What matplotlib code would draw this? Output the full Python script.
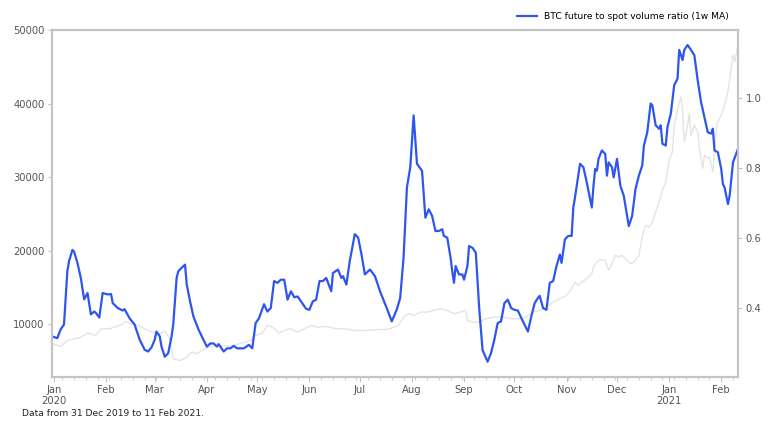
import pandas as pd
import matplotlib
matplotlib.use('Agg')
import matplotlib.pyplot as plt
import matplotlib.dates as mdates

# ratio futures / spot (moyenne mobile 1 semaine), axe de droite
ratio_dates = [
    '2019-12-31', '2020-01-03', '2020-01-05', '2020-01-07', '2020-01-09', '2020-01-10', '2020-01-12',
    '2020-01-13', '2020-01-15', '2020-01-17', '2020-01-19', '2020-01-21', '2020-01-23', '2020-01-25',
    '2020-01-26', '2020-01-28', '2020-01-30', '2020-02-02', '2020-02-04', '2020-02-05', '2020-02-08',
    '2020-02-11', '2020-02-12', '2020-02-15', '2020-02-18', '2020-02-21', '2020-02-24', '2020-02-26',
    '2020-02-28', '2020-03-01', '2020-03-02', '2020-03-04', '2020-03-05', '2020-03-07', '2020-03-09',
    '2020-03-11', '2020-03-12', '2020-03-14', '2020-03-15', '2020-03-17', '2020-03-19', '2020-03-20',
    '2020-03-22', '2020-03-24', '2020-03-27', '2020-03-30', '2020-04-01', '2020-04-03', '2020-04-05',
    '2020-04-07', '2020-04-08', '2020-04-11', '2020-04-13', '2020-04-15', '2020-04-17', '2020-04-19',
    '2020-04-23', '2020-04-26', '2020-04-28', '2020-04-30', '2020-05-02', '2020-05-05', '2020-05-07',
    '2020-05-09', '2020-05-11', '2020-05-13', '2020-05-15', '2020-05-17', '2020-05-19', '2020-05-21',
    '2020-05-23', '2020-05-25', '2020-05-27', '2020-05-30', '2020-06-01', '2020-06-03', '2020-06-05',
    '2020-06-07', '2020-06-09', '2020-06-11', '2020-06-14', '2020-06-15', '2020-06-18', '2020-06-20',
    '2020-06-21', '2020-06-23', '2020-06-25', '2020-06-28', '2020-06-30', '2020-07-02', '2020-07-04',
    '2020-07-07', '2020-07-10', '2020-07-13', '2020-07-17', '2020-07-20', '2020-07-23', '2020-07-25',
    '2020-07-27', '2020-07-29', '2020-07-31', '2020-08-02', '2020-08-04', '2020-08-07', '2020-08-09',
    '2020-08-11', '2020-08-13', '2020-08-15', '2020-08-17', '2020-08-19', '2020-08-20', '2020-08-22',
    '2020-08-24', '2020-08-25', '2020-08-26', '2020-08-27', '2020-08-29', '2020-08-31', '2020-09-01',
    '2020-09-03', '2020-09-04', '2020-09-06', '2020-09-08', '2020-09-10', '2020-09-12', '2020-09-15',
    '2020-09-17', '2020-09-19', '2020-09-21', '2020-09-23', '2020-09-25', '2020-09-27', '2020-09-29',
    '2020-10-01', '2020-10-03', '2020-10-06', '2020-10-09', '2020-10-11', '2020-10-13', '2020-10-15',
    '2020-10-16', '2020-10-18', '2020-10-20', '2020-10-22', '2020-10-24', '2020-10-26', '2020-10-28',
    '2020-10-29', '2020-10-31', '2020-11-02', '2020-11-04', '2020-11-05', '2020-11-06', '2020-11-09',
    '2020-11-11', '2020-11-13', '2020-11-15', '2020-11-16', '2020-11-17', '2020-11-18', '2020-11-19',
    '2020-11-20', '2020-11-22', '2020-11-24', '2020-11-25', '2020-11-26', '2020-11-28', '2020-11-29',
    '2020-12-01', '2020-12-03', '2020-12-05', '2020-12-07', '2020-12-08', '2020-12-10', '2020-12-12',
    '2020-12-14', '2020-12-16', '2020-12-17', '2020-12-19', '2020-12-21', '2020-12-22', '2020-12-24',
    '2020-12-26', '2020-12-27', '2020-12-28', '2020-12-30', '2020-12-31', '2021-01-02', '2021-01-04',
    '2021-01-06', '2021-01-07', '2021-01-09', '2021-01-10', '2021-01-12', '2021-01-14', '2021-01-16',
    '2021-01-18', '2021-01-20', '2021-01-22', '2021-01-24', '2021-01-26', '2021-01-27', '2021-01-28',
    '2021-01-30', '2021-02-01', '2021-02-02', '2021-02-03', '2021-02-05', '2021-02-06', '2021-02-08',
    '2021-02-11']
ratio = [
    0.320, 0.315, 0.340, 0.354, 0.506, 0.535, 0.567,
    0.562, 0.530, 0.487, 0.426, 0.444, 0.383, 0.391,
    0.387, 0.374, 0.444, 0.440, 0.441, 0.415, 0.401,
    0.394, 0.398, 0.372, 0.354, 0.311, 0.282, 0.277,
    0.288, 0.311, 0.334, 0.320, 0.291, 0.262, 0.272,
    0.320, 0.354, 0.487, 0.506, 0.516, 0.525, 0.469,
    0.420, 0.377, 0.340, 0.310, 0.291, 0.300, 0.300,
    0.291, 0.298, 0.277, 0.286, 0.286, 0.293, 0.286,
    0.286, 0.296, 0.286, 0.358, 0.372, 0.412, 0.391,
    0.401, 0.478, 0.473, 0.482, 0.482, 0.425, 0.449,
    0.432, 0.434, 0.420, 0.399, 0.396, 0.420, 0.425,
    0.478, 0.478, 0.487, 0.449, 0.501, 0.511, 0.487,
    0.492, 0.468, 0.535, 0.612, 0.602, 0.554, 0.497,
    0.511, 0.492, 0.449, 0.401, 0.363, 0.397, 0.430,
    0.544, 0.745, 0.803, 0.951, 0.813, 0.793, 0.659,
    0.683, 0.664, 0.621, 0.621, 0.626, 0.607, 0.602,
    0.544, 0.506, 0.473, 0.521, 0.497, 0.497, 0.482,
    0.521, 0.578, 0.573, 0.559, 0.401, 0.281, 0.248,
    0.272, 0.310, 0.358, 0.363, 0.415, 0.425, 0.401,
    0.396, 0.394, 0.363, 0.334, 0.377, 0.415, 0.430,
    0.436, 0.401, 0.396, 0.473, 0.478, 0.521, 0.554,
    0.530, 0.597, 0.607, 0.607, 0.688, 0.717, 0.813,
    0.803, 0.760, 0.712, 0.688, 0.750, 0.798, 0.793,
    0.827, 0.851, 0.841, 0.779, 0.817, 0.803, 0.774,
    0.827, 0.750, 0.722, 0.664, 0.635, 0.664, 0.741,
    0.779, 0.808, 0.865, 0.903, 0.985, 0.980, 0.923,
    0.913, 0.923, 0.870, 0.865, 0.918, 0.956, 1.037,
    1.056, 1.138, 1.109, 1.138, 1.152, 1.138, 1.123,
    1.051, 0.989, 0.946, 0.903, 0.899, 0.913, 0.851,
    0.846, 0.798, 0.755, 0.745, 0.698, 0.722, 0.817,
    0.856]

# prix BTC (USD), axe de gauche, en gris clair
price_dates = [
    '2019-12-31', '2020-01-05', '2020-01-09', '2020-01-13', '2020-01-16', '2020-01-21', '2020-01-23',
    '2020-01-26', '2020-01-29', '2020-02-03', '2020-02-06', '2020-02-10', '2020-02-13', '2020-02-16',
    '2020-02-20', '2020-02-22', '2020-02-26', '2020-02-29', '2020-03-04', '2020-03-07', '2020-03-10',
    '2020-03-12', '2020-03-16', '2020-03-20', '2020-03-23', '2020-03-26', '2020-03-29', '2020-04-02',
    '2020-04-06', '2020-04-09', '2020-04-15', '2020-04-20', '2020-04-24', '2020-04-27', '2020-04-30',
    '2020-05-04', '2020-05-07', '2020-05-10', '2020-05-14', '2020-05-18', '2020-05-21', '2020-05-25',
    '2020-05-29', '2020-06-02', '2020-06-06', '2020-06-11', '2020-06-17', '2020-06-22', '2020-06-28',
    '2020-07-04', '2020-07-10', '2020-07-16', '2020-07-19', '2020-07-24', '2020-07-27', '2020-07-30',
    '2020-08-02', '2020-08-06', '2020-08-10', '2020-08-14', '2020-08-18', '2020-08-22', '2020-08-26',
    '2020-08-30', '2020-09-02', '2020-09-03', '2020-09-06', '2020-09-10', '2020-09-14', '2020-09-19',
    '2020-09-24', '2020-09-29', '2020-10-04', '2020-10-08', '2020-10-12', '2020-10-16', '2020-10-20',
    '2020-10-24', '2020-10-28', '2020-11-01', '2020-11-04', '2020-11-06', '2020-11-08', '2020-11-10',
    '2020-11-13', '2020-11-16', '2020-11-17', '2020-11-19', '2020-11-21', '2020-11-24', '2020-11-26',
    '2020-11-28', '2020-11-30', '2020-12-02', '2020-12-04', '2020-12-06', '2020-12-09', '2020-12-11',
    '2020-12-14', '2020-12-16', '2020-12-18', '2020-12-20', '2020-12-22', '2020-12-24', '2020-12-26',
    '2020-12-28', '2020-12-30', '2021-01-01', '2021-01-03', '2021-01-04', '2021-01-05', '2021-01-07',
    '2021-01-08', '2021-01-09', '2021-01-10', '2021-01-12', '2021-01-13', '2021-01-14', '2021-01-16',
    '2021-01-18', '2021-01-19', '2021-01-21', '2021-01-22', '2021-01-24', '2021-01-25', '2021-01-27',
    '2021-01-29', '2021-01-30', '2021-02-01', '2021-02-03', '2021-02-05', '2021-02-08', '2021-02-09',
    '2021-02-11']
price = [
    7375, 7010, 7825, 8055, 8140, 8820, 8735,
    8505, 9415, 9415, 9635, 9960, 10410, 10095,
    9865, 9635, 9185, 8955, 8735, 9090, 8055,
    5335, 5100, 5555, 6230, 6015, 6465, 6910,
    7145, 7145, 7010, 7375, 7595, 7825, 8505,
    8820, 9865, 9635, 8820, 9280, 9415, 8955,
    9415, 9865, 9635, 9730, 9415, 9415, 9185,
    9185, 9280, 9320, 9415, 9865, 11000, 11455,
    11225, 11675, 11675, 11905, 12135, 11905, 11455,
    11675, 11905, 10545, 10315, 10315, 10775, 11000,
    11000, 10775, 10775, 11000, 11675, 11905, 12355,
    13035, 13500, 13950, 14860, 15755, 15305, 15755,
    16220, 16900, 17800, 18480, 18805, 18710, 17350,
    18260, 19390, 19155, 19390, 18940, 18260, 18480,
    19390, 21880, 23470, 23240, 23920, 25280, 26640,
    28230, 29360, 32310, 33440, 37075, 37990, 40245,
    40925, 38885, 34800, 37075, 38665, 35715, 37075,
    36165, 33905, 31185, 32995, 32545, 32760, 30720,
    36625, 37525, 38435, 39795, 41605, 46600, 45690,
    47960]

ratio_s = pd.Series(ratio, index=pd.to_datetime(ratio_dates))
price_s = pd.Series(price, index=pd.to_datetime(price_dates))

spine_col = '#c4c4c4'
text_col = '#555555'

fig, ax = plt.subplots(figsize=(7.68, 4.28), dpi=100)
fig.subplots_adjust(left=0.068, right=0.961, bottom=0.119, top=0.930)

ax.plot(price_s.index, price_s.values, color='#e4e4e4', lw=1.0)
ax.set_ylim(2850, 50000)
ax.set_yticks([10000, 20000, 30000, 40000, 50000])

ax2 = ax.twinx()
ax2.plot(ratio_s.index, ratio_s.values, color='#2f55ee', lw=1.6,
         label='BTC future to spot volume ratio (1w MA)')
ax2.set_ylim(0.204, 1.195)
ax2.set_yticks([0.4, 0.6, 0.8, 1.0])
ax2.set_yticklabels(['0.4', '0.6', '0.8', '1.0'])

ax.set_xlim(pd.Timestamp('2019-12-31'), pd.Timestamp('2021-02-11'))
ax.xaxis.set_major_locator(mdates.MonthLocator())
ax.xaxis.set_minor_locator(mdates.WeekdayLocator(byweekday=mdates.MO))


def fmt_month(x, pos=None):
    d = mdates.num2date(x)
    if d.month == 1:
        return d.strftime('%b') + '\n' + d.strftime('%Y')
    return d.strftime('%b')


ax.xaxis.set_major_formatter(plt.FuncFormatter(fmt_month))

for a in (ax, ax2):
    for sp in a.spines.values():
        sp.set_color(spine_col)
        sp.set_linewidth(1.5)
    a.tick_params(colors=spine_col, labelcolor=text_col, labelsize=7.2, length=3, pad=2.5)
ax.tick_params(axis='x', which='major', length=3.5, pad=2)
ax.tick_params(axis='x', which='minor', length=2, colors=spine_col)

ax2.legend(loc='lower right', bbox_to_anchor=(1.0, 1.0), frameon=False,
           fontsize=6.6, handlelength=2.2, borderaxespad=0.6)

fig.text(0.028, 0.035, 'Data from 31 Dec 2019 to 11 Feb 2021.', fontsize=6.6,
         color='#222222', va='center')

plt.savefig('out.png')
